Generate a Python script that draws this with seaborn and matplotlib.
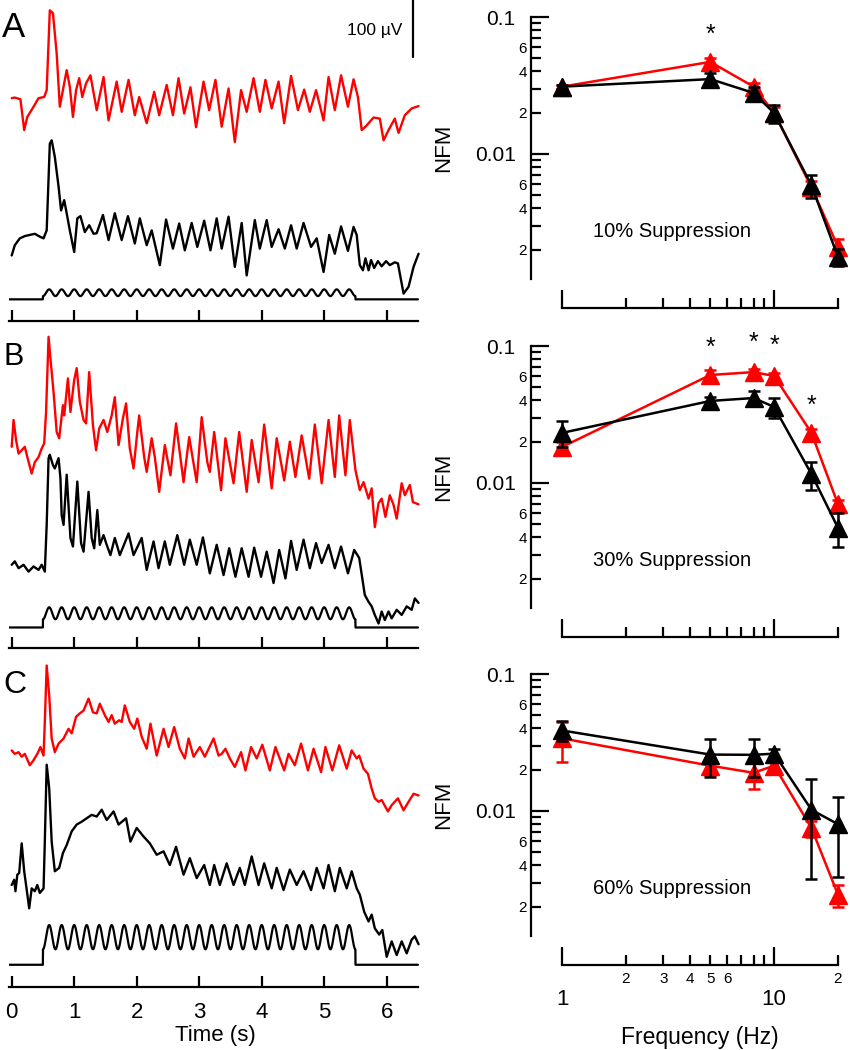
import numpy as np
import seaborn as sns
import matplotlib.pyplot as plt
from matplotlib.ticker import FixedLocator, FuncFormatter

# ---- field potential traces (time in s, amplitude in uV) ----
t_a_red = [0.00, 0.05, 0.14, 0.20, 0.25, 0.35, 0.43, 0.52, 0.56, 0.61,
           0.66, 0.72, 0.77, 0.84, 0.88, 0.93, 0.98, 1.03, 1.08, 1.13,
           1.19, 1.26, 1.36, 1.47, 1.55, 1.68, 1.76, 1.87, 1.97, 2.04,
           2.16, 2.28, 2.36, 2.48, 2.58, 2.67, 2.76, 2.86, 2.95, 3.07,
           3.16, 3.26, 3.36, 3.47, 3.57, 3.67, 3.76, 3.87, 3.97, 4.06,
           4.16, 4.27, 4.36, 4.47, 4.58, 4.68, 4.77, 4.87, 4.99, 5.07,
           5.17, 5.27, 5.38, 5.47, 5.54, 5.60, 5.67, 5.79, 5.89, 5.95,
           6.03, 6.13, 6.19, 6.29, 6.40, 6.51]
uv_a_red = [0, 1, -2, -56, -33, -15, 0, 2, 14, 154,
            149, 78, -15, 26, 49, 20, -33, 14, 35, 2,
            26, 40, -21, 37, -39, 29, -24, 32, -30, 2,
            -44, 11, -30, 23, -30, 35, -27, 19, -51, 29,
            -21, 32, -50, 17, -77, 14, -24, 35, -24, 32,
            -18, 29, -44, 39, -21, 15, -24, 14, -39, 37,
            -21, 40, -15, 33, 2, -56, -49, -34, -36, -74,
            -56, -36, -61, -30, -18, -14]

t_a_black = [0.00, 0.05, 0.13, 0.21, 0.29, 0.37, 0.45, 0.51, 0.56, 0.61,
             0.64, 0.69, 0.75, 0.79, 0.84, 0.88, 0.93, 1.00, 1.05, 1.10,
             1.17, 1.24, 1.31, 1.36, 1.46, 1.55, 1.65, 1.76, 1.86, 1.97,
             2.05, 2.16, 2.24, 2.37, 2.47, 2.58, 2.68, 2.77, 2.88, 2.97,
             3.08, 3.18, 3.28, 3.36, 3.47, 3.57, 3.68, 3.76, 3.89, 3.97,
             4.08, 4.16, 4.27, 4.37, 4.47, 4.56, 4.67, 4.79, 4.88, 4.99,
             5.08, 5.17, 5.27, 5.38, 5.47, 5.52, 5.57, 5.62, 5.66, 5.71,
             5.75, 5.80, 5.86, 5.92, 5.99, 6.05, 6.13, 6.18, 6.27, 6.35,
             6.43, 6.51]
uv_a_black = [-32, -14, -2, 2, 4, 6, 1, -2, 12, 164,
              170, 141, 89, 47, 65, 42, 12, -26, 33, 37,
              9, 21, 6, 7, 39, -5, 42, -5, 37, -11,
              33, -14, 12, -49, 31, -20, 24, -23, 25, -17,
              29, -23, 33, -20, 36, -52, 25, -67, 30, -20,
              30, -17, 14, -20, 21, -20, 25, -17, -2, -61,
              4, -29, 19, -24, 18, 4, -49, -58, -37, -58,
              -40, -54, -42, -51, -42, -49, -44, -46, -99, -87,
              -52, -29]

t_b_red = [0.00, 0.03, 0.07, 0.11, 0.16, 0.21, 0.25, 0.32, 0.37, 0.43,
           0.48, 0.52, 0.55, 0.59, 0.62, 0.67, 0.72, 0.76, 0.82, 0.84,
           0.90, 0.94, 1.00, 1.04, 1.09, 1.15, 1.19, 1.24, 1.30, 1.35,
           1.40, 1.47, 1.53, 1.60, 1.65, 1.71, 1.78, 1.83, 1.89, 1.95,
           2.01, 2.04, 2.12, 2.16, 2.24, 2.29, 2.36, 2.45, 2.54, 2.63,
           2.75, 2.84, 2.96, 3.04, 3.13, 3.17, 3.24, 3.35, 3.42, 3.55,
           3.64, 3.76, 3.84, 3.95, 4.04, 4.16, 4.24, 4.36, 4.45, 4.54,
           4.64, 4.76, 4.85, 4.96, 5.07, 5.17, 5.24, 5.34, 5.41, 5.50,
           5.57, 5.63, 5.71, 5.76, 5.81, 5.87, 5.92, 5.98, 6.05, 6.11,
           6.16, 6.24, 6.29, 6.37, 6.42, 6.51]
uv_b_red = [6, 53, 18, -6, 0, 6, -12, -41, -21, -12,
            3, 12, 67, 199, 161, 102, 32, 21, 79, 61,
            126, 67, 123, 144, 85, 53, 47, 137, 44, 0,
            38, 53, 32, 61, 93, 9, 56, 82, 3, -32,
            32, 61, -12, -38, 21, -12, -73, 9, -44, 47,
            -56, 23, -56, 58, -21, -38, 32, -70, 21, -58,
            32, -73, 18, -56, 45, -67, 21, -53, 15, -47,
            26, -50, 45, -58, 53, -47, 61, -44, 53, -35,
            -70, -56, -85, -67, -135, -93, -85, -117, -79, -96,
            -120, -58, -79, -61, -91, -95]

t_b_black = [0.00, 0.05, 0.11, 0.19, 0.27, 0.35, 0.43, 0.48, 0.53, 0.56,
             0.59, 0.61, 0.66, 0.69, 0.75, 0.78, 0.80, 0.83, 0.88, 0.94,
             0.98, 1.05, 1.11, 1.15, 1.23, 1.28, 1.32, 1.37, 1.41, 1.47,
             1.52, 1.58, 1.65, 1.73, 1.87, 1.95, 2.08, 2.16, 2.27, 2.35,
             2.45, 2.53, 2.65, 2.76, 2.85, 2.96, 3.06, 3.17, 3.28, 3.39,
             3.48, 3.58, 3.68, 3.79, 3.88, 3.99, 4.08, 4.19, 4.28, 4.38,
             4.47, 4.56, 4.67, 4.77, 4.87, 4.96, 5.07, 5.17, 5.27, 5.38,
             5.48, 5.56, 5.61, 5.65, 5.71, 5.76, 5.81, 5.87, 5.92, 5.97,
             6.03, 6.08, 6.16, 6.24, 6.32, 6.40, 6.45, 6.51]
uv_b_black = [2, 8, -4, 2, -10, -1, -7, 2, -10, 72,
              189, 195, 177, 171, 189, 154, 89, 72, 160, 49,
              34, 148, 40, 25, 130, 49, 31, 98, 37, 54,
              37, 19, 49, 19, 57, 19, 49, -7, 43, -4,
              43, 2, 54, 2, 46, 2, 50, -13, 37, -16,
              31, -19, 31, -19, 32, -19, 25, -30, 28, -22,
              44, -7, 46, -4, 40, 5, 37, -4, 34, -13,
              28, 14, -22, -51, -63, -71, -86, -101, -80, -95,
              -80, -92, -77, -86, -71, -77, -57, -65]

t_c_red = [0.00, 0.05, 0.11, 0.16, 0.21, 0.29, 0.35, 0.41, 0.46, 0.51,
           0.53, 0.56, 0.60, 0.64, 0.69, 0.75, 0.83, 0.91, 0.96, 1.03,
           1.09, 1.15, 1.23, 1.30, 1.36, 1.41, 1.49, 1.55, 1.60, 1.65,
           1.72, 1.76, 1.81, 1.89, 1.96, 2.01, 2.08, 2.16, 2.22, 2.32,
           2.43, 2.51, 2.60, 2.69, 2.77, 2.83, 2.91, 3.01, 3.09, 3.23,
           3.31, 3.36, 3.42, 3.49, 3.57, 3.67, 3.74, 3.83, 3.92, 4.01,
           4.13, 4.22, 4.36, 4.43, 4.53, 4.63, 4.74, 4.83, 4.95, 5.02,
           5.13, 5.24, 5.36, 5.44, 5.52, 5.56, 5.63, 5.70, 5.76, 5.81,
           5.87, 5.92, 6.02, 6.08, 6.18, 6.27, 6.35, 6.43, 6.51]
uv_c_red = [5, -1, 2, -6, -1, -21, -12, -1, 11, -4,
            55, 154, 102, 26, 2, 17, 26, 43, 35, 64,
            70, 75, 96, 72, 70, 87, 67, 55, 67, 52,
            58, 55, 84, 55, 43, 61, 29, 8, 52, -4,
            43, 11, 46, 8, -9, 26, -6, 11, -6, 26,
            -4, -1, 8, -9, -24, 2, -30, 11, -9, 15,
            -30, 11, -30, -1, -21, 17, -30, 8, -33, 11,
            -30, 14, -27, 5, -9, -4, -27, -36, -62, -79,
            -85, -82, -102, -91, -79, -100, -85, -71, -74]

t_c_black = [0.00, 0.04, 0.06, 0.09, 0.12, 0.16, 0.20, 0.23, 0.28, 0.32,
             0.37, 0.41, 0.45, 0.51, 0.53, 0.56, 0.60, 0.64, 0.69, 0.76,
             0.82, 0.88, 0.96, 1.04, 1.12, 1.20, 1.28, 1.36, 1.44, 1.52,
             1.63, 1.71, 1.83, 1.90, 2.00, 2.11, 2.21, 2.32, 2.43, 2.53,
             2.63, 2.75, 2.85, 2.96, 3.08, 3.17, 3.24, 3.33, 3.44, 3.55,
             3.65, 3.73, 3.84, 3.95, 4.04, 4.16, 4.24, 4.35, 4.45, 4.56,
             4.67, 4.79, 4.88, 4.99, 5.07, 5.17, 5.25, 5.36, 5.44, 5.52,
             5.57, 5.64, 5.71, 5.76, 5.81, 5.88, 5.93, 6.00, 6.08, 6.16,
             6.24, 6.32, 6.40, 6.45, 6.51]
uv_c_black = [5, 14, -6, 23, 26, 78, 29, 5, -36, -1,
              -6, 5, -9, -1, 81, 216, 175, 81, 29, 35,
              61, 75, 99, 111, 116, 122, 128, 125, 137, 119,
              134, 111, 122, 81, 105, 90, 78, 58, 64, 40,
              72, 23, 52, 17, 40, 5, 40, 5, 43, 5,
              35, 5, 55, 5, 43, -1, 35, -4, 32, 5,
              29, -4, 35, -1, 40, -6, 35, -1, 29, -1,
              -12, -42, -59, -47, -71, -82, -74, -121, -94, -118,
              -94, -115, -91, -85, -99]

# stimulus: 5 Hz modulation between 0.5 s and 5.5 s
stim_on, stim_off, stim_freq = 0.5, 5.5, 5.0

# ---- normalized frequency modulation (NFM) vs frequency ----
freq_hz = [1, 5, 8, 10, 15, 20]

nfm_a_red = [0.031, 0.047, 0.031, 0.020, 0.0057, 0.0021]
err_a_red = [0.001, 0.003, 0.002, 0.002, 0.0006, 0.0003]
nfm_a_black = [0.031, 0.0352, 0.0279, 0.0199, 0.0059, 0.00177]
err_a_black = [0.001, 0.0035, 0.003, 0.003, 0.0011, 0.00025]

nfm_b_red = [0.0183, 0.0614, 0.0645, 0.0604, 0.0232, 0.0070]
err_b_red = [0.0015, 0.005, 0.004, 0.003, 0.0015, 0.0005]
nfm_b_black = [0.0232, 0.0397, 0.0417, 0.0359, 0.0116, 0.0047]
err_b_black = [0.005, 0.003, 0.0055, 0.006, 0.0027, 0.0013]

nfm_c_red = [0.0339, 0.0214, 0.019, 0.0214, 0.0075, 0.00245]
err_c_red = [0.011, 0.003, 0.0045, 0.0025, 0.001, 0.00045]
nfm_c_black = [0.0387, 0.0258, 0.0257, 0.0262, 0.0102, 0.0080]
err_c_black = [0.0065, 0.008, 0.008, 0.002, 0.007, 0.0047]

star_a_freq, star_a_nfm = [5], [0.083]
star_b_freq, star_b_nfm = [5, 8, 10, 15], [0.109, 0.118, 0.112, 0.041]
star_c_freq, star_c_nfm = [], []

suppression = ["10% Suppression", "30% Suppression", "60% Suppression"]
panel_labels = ["A", "B", "C"]

# ---------------------------------------------------------------------------
sns.set_theme(style="white")
plt.rcParams["font.family"] = ["Liberation Sans", "DejaVu Sans"]
plt.rcParams["axes.linewidth"] = 1.6
for key in ("text.color", "axes.labelcolor", "xtick.color", "ytick.color", "axes.edgecolor"):
    plt.rcParams[key] = "black"

W, H = 850, 1050
fig = plt.figure(figsize=(W / 100, H / 100), dpi=100)
UV_PER_PX = 100 / 57  # 100 uV scale bar is 57 px tall


def px_axes(x0, y0, x1, y1):
    return fig.add_axes([x0 / W, 1 - y1 / H, (x1 - x0) / W, (y1 - y0) / H])


# left column: traces
trace_sets = [
    ((9, 0, 420, 321), t_a_red, uv_a_red, t_a_black, uv_a_black,
     391, 147, 38, 49.6, 5.9),
    ((9, 330, 420, 648), t_b_red, uv_b_red, t_b_black, uv_b_black,
     347, 144, 36, 60.9, 10.5),
    ((9, 655, 420, 987), t_c_red, uv_c_red, t_c_black, uv_c_black,
     410, 174, 39, 87.4, 21.3),
]

t_stim = np.linspace(-0.04, 6.5, 3000)
left_axes = []
for i, (box, tr, vr, tb, vb, off_r, off_b, s_base, s_mean, s_amp) in enumerate(trace_sets):
    ax = px_axes(*box)
    left_axes.append(ax)
    height_uv = (box[3] - box[1]) * UV_PER_PX
    sns.lineplot(x=tr, y=np.array(vr) + off_r, sort=False, estimator=None,
                 color="#ff0000", linewidth=1.7, solid_joinstyle="round", ax=ax)
    sns.lineplot(x=tb, y=np.array(vb) + off_b, sort=False, estimator=None,
                 color="black", linewidth=1.7, solid_joinstyle="round", ax=ax)
    on = (t_stim >= stim_on) & (t_stim <= stim_off)
    stim = np.where(on, s_mean + s_amp * np.cos(2 * np.pi * stim_freq * (t_stim - 0.6)), s_base)
    ax.plot(t_stim, stim, color="black", linewidth=1.6)

    ax.set_xlim(-0.043, 6.533)
    ax.set_ylim(0, height_uv)
    sns.despine(ax=ax, left=True)
    ax.spines["bottom"].set_bounds(-0.04, 6.5)
    ax.set_yticks([])
    ax.set_xticks(range(7))
    ax.tick_params(axis="x", direction="in", length=8, width=1.6,
                   labelsize=16, pad=11, bottom=True)
    if i < 2:
        ax.set_xticklabels([])
    ax.set_ylabel("")

left_axes[2].set_xlabel("Time (s)", fontsize=16)
left_axes[2].xaxis.set_label_coords(0.501, -0.115)
left_axes[2].xaxis.label.set_va("top")

# scale bar in panel A
ax_a = left_axes[0]
top_a = 321 * UV_PER_PX
ax_a.plot([6.42, 6.42], [top_a - 100, top_a], color="black", linewidth=1.6, clip_on=False)
fig.text(402 / W, 1 - 31 / H, "100 µV", fontsize=12.5, ha="right", va="center")

for lab, (x, y), fs in zip(panel_labels, [(2, 37), (3, 365), (3, 693)], [25, 22, 23]):
    fig.text(x / W, 1 - y / H, lab, fontsize=fs, ha="left", va="baseline")

# right column: NFM vs frequency
nfm_sets = [
    ((531, 10, 848, 308), nfm_a_red, err_a_red, nfm_a_black, err_a_black, star_a_freq, star_a_nfm),
    ((531, 339, 848, 637), nfm_b_red, err_b_red, nfm_b_black, err_b_black, star_b_freq, star_b_nfm),
    ((531, 667, 848, 965), nfm_c_red, err_c_red, nfm_c_black, err_c_black, star_c_freq, star_c_nfm),
]


def ymajor(v, pos):
    return f"{v:g}"


def yminor(v, pos):
    m = int(round(v / 10 ** np.floor(np.log10(v))))
    return str(m) if m in (2, 4, 6) else ""


def xminor(v, pos):
    m = int(round(v / 10 ** np.floor(np.log10(v))))
    return str(m) if (m in (2, 3, 4, 5, 6)) else ""


for i, (box, red, red_err, blk, blk_err, s_f, s_v) in enumerate(nfm_sets):
    ax = px_axes(*box)
    ax.set_xscale("log")
    ax.set_yscale("log")
    for vals, errs, col in [(red, red_err, "#ff0000"), (blk, blk_err, "black")]:
        ax.errorbar(freq_hz, vals, yerr=errs, fmt="none", ecolor=col,
                    elinewidth=1.8, capsize=4.5, capthick=1.8)
        sns.lineplot(x=freq_hz, y=vals, color=col, linewidth=1.8, marker="^",
                     markersize=13, markeredgecolor=col, markeredgewidth=1,
                     ax=ax)
    for f, v in zip(s_f, s_v):
        ax.annotate("*", (f, v), xytext=(0, -10), textcoords="offset points",
                    ha="center", va="baseline", fontsize=18, annotation_clip=False)
    ax.text(3.3, 0.0027, suppression[i], fontsize=14.5, ha="center", va="center")

    ax.set_xlim(0.714, 22.3)
    ax.set_ylim(0.00075, 0.1125)
    sns.despine(ax=ax)
    ax.spines["left"].set_bounds(0.00122, 0.1)
    ax.spines["bottom"].set_bounds(1, 20)
    for s in ("left", "bottom"):
        ax.spines[s].set_linewidth(1.6)

    ax.yaxis.set_major_locator(FixedLocator([0.01, 0.1]))
    ax.yaxis.set_minor_locator(FixedLocator([m * d for d in (0.001, 0.01) for m in range(2, 10)]))
    ax.yaxis.set_major_formatter(FuncFormatter(ymajor))
    ax.yaxis.set_minor_formatter(FuncFormatter(yminor))
    ax.tick_params(axis="y", which="major", direction="in", length=13, width=1.6,
                   labelsize=15, pad=11, left=True)
    ax.tick_params(axis="y", which="minor", direction="in", length=7, width=1.6,
                   labelsize=11, pad=3, left=True)

    ax.xaxis.set_major_locator(FixedLocator([1, 10]))
    ax.xaxis.set_minor_locator(FixedLocator([2, 3, 4, 5, 6, 7, 8, 9, 20]))
    if i == 2:
        ax.xaxis.set_major_formatter(FuncFormatter(lambda v, p: f"{v:g}"))
        ax.xaxis.set_minor_formatter(FuncFormatter(xminor))
        ax.set_xlabel("Frequency (Hz)", fontsize=16.5)
        ax.xaxis.set_label_coords(0.533, -0.205)
        ax.xaxis.label.set_va("top")
    else:
        ax.xaxis.set_major_formatter(FuncFormatter(lambda v, p: ""))
        ax.xaxis.set_minor_formatter(FuncFormatter(lambda v, p: ""))
    ax.tick_params(axis="x", which="major", direction="in", length=13, width=1.6,
                   labelsize=16, pad=17, bottom=True)
    ax.tick_params(axis="x", which="minor", direction="in", length=7, width=1.6,
                   labelsize=11, pad=5, bottom=True)

    ax.set_ylabel("NFM", fontsize=16)
    ax.yaxis.set_label_coords(-0.243, 0.537)

fig.savefig("out.png", dpi=100)
